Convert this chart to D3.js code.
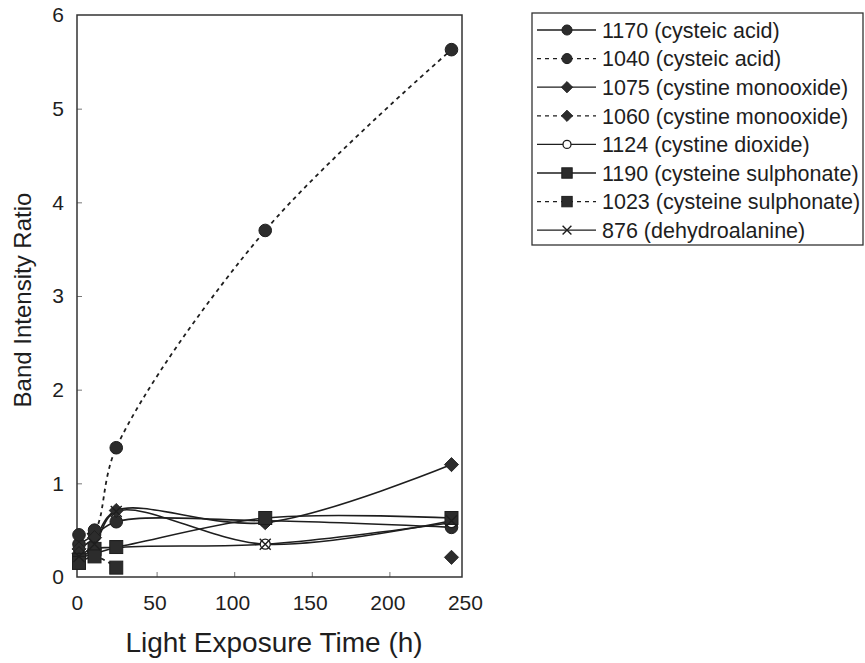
<!DOCTYPE html>
<html>
<head>
<meta charset="utf-8">
<script src="https://cdn.jsdelivr.net/npm/d3@7"></script>
<style>
  html, body { margin: 0; padding: 0; background: #fff; }
  svg { display: block; font-family: "Liberation Sans", Arial, sans-serif; }
</style>
</head>
<body>
<svg id="chart" width="865" height="663"></svg>
<script>
// Exposure times (h)
const times = [0, 10, 24, 120, 240];

// Band intensity ratios per Raman band (null = not measured)
const s1170 = [0.35, 0.45, 0.59, 0.60, 0.53];
const s1040 = [0.45, 0.50, 1.38, 3.70, 5.63];
const s1075 = [0.30, 0.42, 0.71, 0.58, 1.20];
const s1060 = [0.25, 0.30, null, null, 0.21];
const s1124 = [0.20, 0.25, 0.31, 0.35, 0.58];
const s1190 = [0.18, 0.30, 0.32, 0.63, 0.63];
const s1023 = [0.15, 0.22, 0.10, null, null];
const s876  = [0.22, 0.35, 0.70, 0.35, 0.60];

const seriesNames = [
  "1170 (cysteic acid)",
  "1040 (cysteic acid)",
  "1075 (cystine monooxide)",
  "1060 (cystine monooxide)",
  "1124 (cystine dioxide)",
  "1190 (cysteine sulphonate)",
  "1023 (cysteine sulphonate)",
  "876 (dehydroalanine)"
];
const seriesValues = [s1170, s1040, s1075, s1060, s1124, s1190, s1023, s876];
const seriesMarkers = ["circle", "circle", "diamond", "diamond", "open", "square", "square", "x"];
const seriesDashed = [false, true, false, true, false, false, true, false];

const xTicks = [0, 50, 100, 150, 200, 250];
const yTicks = [0, 1, 2, 3, 4, 5, 6];

const ink = "#1e1e1e";
const fillDark = "#2c2c2c";

const svg = d3.select("#chart");

const plot = { left: 77, right: 462, top: 15, bottom: 577 };
const x = d3.scaleLinear().domain([0, 250]).range([79, 467]);
const y = d3.scaleLinear().domain([0, 6]).range([plot.bottom, plot.top]);

// Axes with inward ticks
const xAxis = svg.append("g")
  .attr("transform", `translate(0,${plot.bottom})`)
  .call(d3.axisBottom(x).tickValues(xTicks).tickFormat(d3.format("d")).tickSize(-5).tickPadding(18));
const yAxis = svg.append("g")
  .attr("transform", `translate(${plot.left},0)`)
  .call(d3.axisLeft(y).tickValues(yTicks).tickFormat(d3.format("d")).tickSize(-5).tickPadding(13));

[xAxis, yAxis].forEach(g => {
  g.select(".domain").remove();
  g.selectAll(".tick line").attr("stroke", "#777").attr("stroke-width", 1);
  g.selectAll(".tick text")
    .attr("fill", ink)
    .style("font-size", "21px")
    .style("font-family", "\"Liberation Sans\", Arial, sans-serif");
});
xAxis.selectAll(".tick text").attr("dx", "-0.1em");
xAxis.selectAll(".tick line").filter(d => d === 0 || d === 250).remove();
yAxis.selectAll(".tick line").filter(d => d === 0 || d === 6).remove();

// Plot frame
svg.append("rect")
  .attr("x", plot.left).attr("y", plot.top)
  .attr("width", plot.right - plot.left).attr("height", plot.bottom - plot.top)
  .attr("fill", "none").attr("stroke", "#333").attr("stroke-width", 1.5);

// Axis titles
svg.append("text")
  .attr("x", 274).attr("y", 652)
  .attr("text-anchor", "middle")
  .attr("fill", ink)
  .style("font-size", "28px")
  .text("Light Exposure Time (h)");

svg.append("text")
  .attr("transform", `translate(31,300) rotate(-90)`)
  .attr("text-anchor", "middle")
  .attr("fill", ink)
  .style("font-size", "24px")
  .text("Band Intensity Ratio");

// Marker drawing
function drawMarker(g, type, scale) {
  const s = scale || 1;
  if (type === "circle") {
    g.append("circle").attr("r", 6.3 * s).attr("fill", fillDark).attr("stroke", ink).attr("stroke-width", 1);
  } else if (type === "open") {
    g.append("circle").attr("r", 5 * s).attr("fill", "#fff").attr("stroke", ink).attr("stroke-width", 1.3);
  } else if (type === "diamond") {
    const h = 5 * s;
    g.append("rect").attr("x", -h).attr("y", -h).attr("width", 2 * h).attr("height", 2 * h)
      .attr("transform", "rotate(45)")
      .attr("fill", fillDark).attr("stroke", ink).attr("stroke-width", 0.8);
  } else if (type === "square") {
    const h = 6.5 * s;
    g.append("rect").attr("x", -h).attr("y", -h).attr("width", 2 * h).attr("height", 2 * h)
      .attr("fill", fillDark).attr("stroke", ink).attr("stroke-width", 1);
  } else if (type === "x") {
    const h = 5.5 * s;
    const p = d3.path();
    p.moveTo(-h, -h); p.lineTo(h, h);
    p.moveTo(-h, h); p.lineTo(h, -h);
    g.append("path").attr("d", p.toString()).attr("stroke", ink).attr("stroke-width", 1.4).attr("fill", "none");
  }
}

const line = d3.line()
  .defined(d => d.v != null)
  .x(d => x(d.t))
  .y(d => y(d.v))
  .curve(d3.curveCatmullRom.alpha(0.5));

const series = seriesNames.map((name, i) => ({
  name,
  marker: seriesMarkers[i],
  dashed: seriesDashed[i],
  points: times.map((t, j) => ({ t, v: seriesValues[i][j] }))
}));

// Curves
svg.append("g").selectAll("path")
  .data(series)
  .join("path")
  .attr("d", s => line(s.points))
  .attr("fill", "none")
  .attr("stroke", ink)
  .attr("stroke-width", s => s.dashed ? 1.8 : 1.6)
  .attr("stroke-dasharray", s => s.dashed ? "4,4" : null);

// Markers
series.forEach(s => {
  s.points.filter(p => p.v != null).forEach(p => {
    const g = svg.append("g").attr("transform", `translate(${x(p.t)},${y(p.v)})`);
    drawMarker(g, s.marker, 1);
  });
});

// Legend
const legend = svg.append("g").attr("transform", "translate(532,13)");
legend.append("rect")
  .attr("x", 0).attr("y", 0).attr("width", 331).attr("height", 232)
  .attr("fill", "#fff").attr("stroke", "#333").attr("stroke-width", 1.3);

series.forEach((s, i) => {
  const row = legend.append("g").attr("transform", `translate(0,${17 + i * 28.6})`);
  row.append("line")
    .attr("x1", 5).attr("x2", 64).attr("y1", 0).attr("y2", 0)
    .attr("stroke", ink).attr("stroke-width", 1.3)
    .attr("stroke-dasharray", s.dashed ? "4,4" : null);
  const m = row.append("g").attr("transform", "translate(35,0)");
  drawMarker(m, s.marker, 0.8);
  row.append("text")
    .attr("x", 70).attr("y", 0).attr("dy", "0.36em")
    .attr("fill", ink)
    .style("font-size", "21.5px")
    .text(s.name);
});
</script>
</body>
</html>
